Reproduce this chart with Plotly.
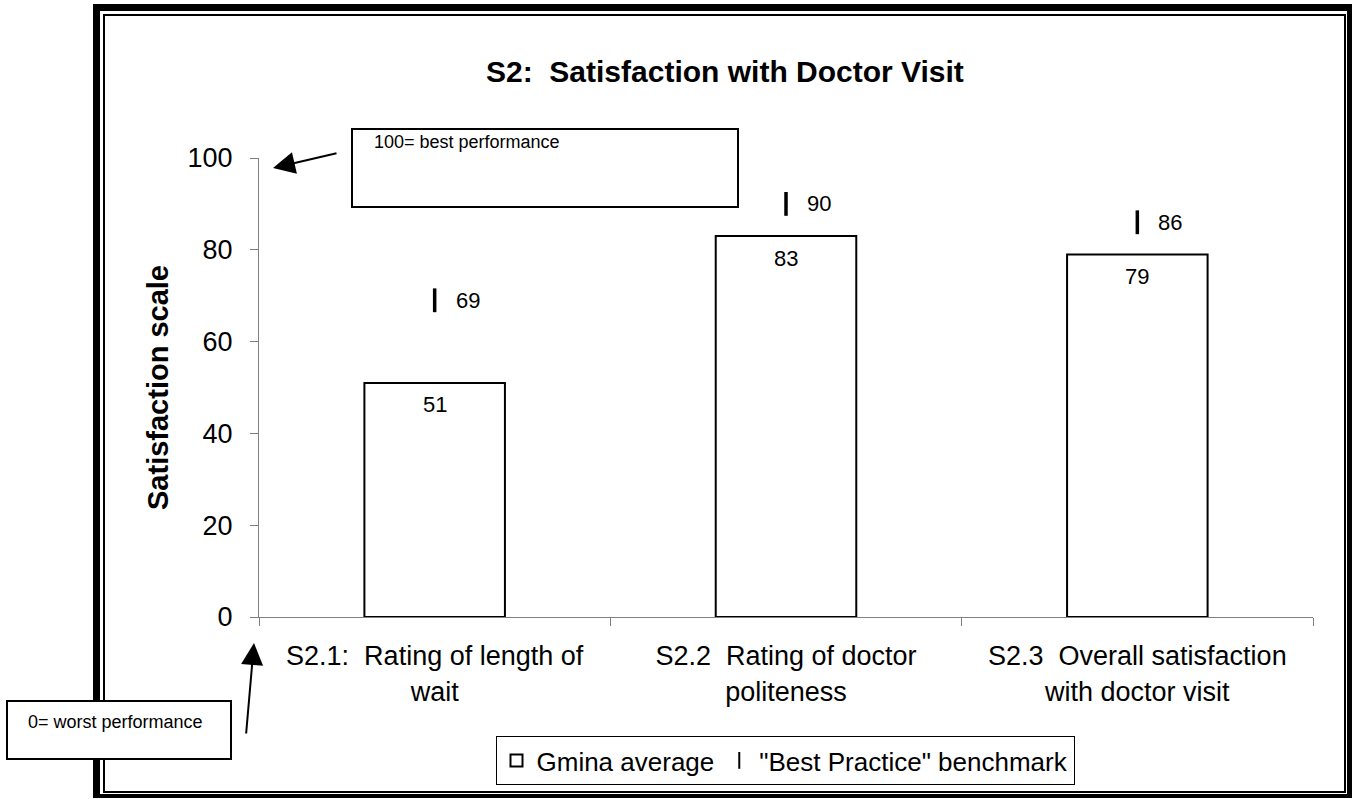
import plotly.graph_objects as go

# ---- data ----
categories = [
    "S2.1:  Rating of length of<br>wait",
    "S2.2  Rating of doctor<br>politeness",
    "S2.3  Overall satisfaction<br>with doctor visit",
]
gmina_average = [51, 83, 79]
best_practice = [69, 90, 86]
y_ticks = [0, 20, 40, 60, 80, 100]
series_names = ["Gmina average", '"Best Practice" benchmark']
title_text = "S2:  Satisfaction with Doctor Visit"
y_title = "Satisfaction scale"
note_best = "100= best performance"
note_worst = "0= worst performance"

# ---- layout geometry (pixels) ----
W, H = 1354, 799
L, R, T, B = 259, 1313, 158, 617
FONT = "Arial, Liberation Sans, sans-serif"


def px(x):
    return (x - L) / (R - L)


def py(y):
    return (B - y) / (B - T)


fig = go.Figure()
fig.add_trace(go.Bar(
    x=categories, y=gmina_average, name=series_names[0], width=0.4,
    marker=dict(color="white", line=dict(color="black", width=2)),
    hoverinfo="y",
))
fig.add_trace(go.Scatter(
    x=categories, y=best_practice, name=series_names[1], mode="markers",
    marker=dict(symbol="line-ns", size=17, color="black",
                line=dict(color="black", width=3.5)),
    hoverinfo="y",
))

annotations = []
for c, v in zip(categories, gmina_average):
    annotations.append(dict(x=c, y=v, xref="x", yref="y", text=str(v), showarrow=False,
                            yshift=-22, font=dict(size=22, family=FONT, color="black")))
for c, v in zip(categories, best_practice):
    annotations.append(dict(x=c, y=v, xref="x", yref="y", text=str(v), showarrow=False,
                            xshift=33, font=dict(size=22, family=FONT, color="black")))

# title and y title
annotations.append(dict(x=px(725), y=py(72), xref="paper", yref="paper", text="<b>%s</b>" % title_text,
                        showarrow=False, xanchor="center", yanchor="middle",
                        font=dict(size=30, family=FONT, color="black")))
annotations.append(dict(x=px(158), y=py(388), xref="paper", yref="paper", text="<b>%s</b>" % y_title,
                        showarrow=False, xanchor="center", yanchor="middle", textangle=-90,
                        font=dict(size=29, family=FONT, color="black")))
# note texts
annotations.append(dict(x=px(372), y=py(142), xref="paper", yref="paper", text=note_best,
                        showarrow=False, xanchor="left", yanchor="middle",
                        font=dict(size=18, family=FONT, color="black")))
annotations.append(dict(x=px(26), y=py(722), xref="paper", yref="paper", text=note_worst,
                        showarrow=False, xanchor="left", yanchor="middle",
                        font=dict(size=18, family=FONT, color="black")))
# arrows
annotations.append(dict(x=px(273), y=py(168), xref="paper", yref="paper", text="",
                        showarrow=True, ax=65, ay=-15, arrowhead=2, arrowsize=2.2,
                        arrowwidth=2, arrowcolor="black"))
annotations.append(dict(x=px(254), y=py(643), xref="paper", yref="paper", text="",
                        showarrow=True, ax=-8, ay=92, arrowhead=2, arrowsize=2.2,
                        arrowwidth=2, arrowcolor="black"))

shapes = []
# double frame: thick outer bars + thin inner rect
for (x0, y0, x1, y1) in [(93, 4, 100, 798), (93, 4, 1352, 11), (1347, 4, 1352, 798), (93, 794, 1352, 798)]:
    shapes.append(dict(type="rect", xref="paper", yref="paper", x0=px(x0), x1=px(x1), y0=py(y0), y1=py(y1),
                       fillcolor="black", line=dict(width=0), layer="above"))
shapes.append(dict(type="rect", xref="paper", yref="paper", x0=px(104), x1=px(1345), y0=py(15), y1=py(792),
                   line=dict(color="black", width=2), layer="above"))
# note boxes
shapes.append(dict(type="rect", xref="paper", yref="paper", x0=px(352), x1=px(738), y0=py(129), y1=py(207),
                   fillcolor="white", line=dict(color="black", width=2), layer="above"))
shapes.append(dict(type="rect", xref="paper", yref="paper", x0=px(7), x1=px(231), y0=py(701), y1=py(759),
                   fillcolor="white", line=dict(color="black", width=2), layer="above"))

fig.update_layout(
    width=W, height=H,
    margin=dict(l=L, r=W - R, t=T, b=H - B, pad=0),
    paper_bgcolor="white", plot_bgcolor="white",
    font=dict(family=FONT, color="black"),
    showlegend=True,
    legend=dict(orientation="h", x=px(785), xanchor="center", y=py(736), yanchor="top",
                bordercolor="black", borderwidth=1, font=dict(size=26, family=FONT),
                itemsizing="constant", itemwidth=30, bgcolor="white"),
    annotations=annotations,
    shapes=shapes,
    bargap=0.6,
)
fig.update_xaxes(
    type="category", range=[-0.5, 2.5], showline=True, linecolor="#808080", linewidth=1,
    ticks="outside", tickson="boundaries", ticklen=8, tickcolor="#808080", ticklabelstandoff=15,
    tickfont=dict(size=27, family=FONT, color="black"), showgrid=False, zeroline=False,
)
fig.update_yaxes(
    range=[0, 100], tickvals=y_ticks, showline=True, linecolor="#808080", linewidth=1,
    ticks="outside", ticklen=8, tickcolor="#808080", ticklabelstandoff=12,
    tickfont=dict(size=27, family=FONT, color="black"), showgrid=False, zeroline=False,
)

fig.write_html(
    "out.html",
    config={"displayModeBar": False},
    post_script="document.body.style.margin='0';document.body.style.overflow='hidden';",
)
